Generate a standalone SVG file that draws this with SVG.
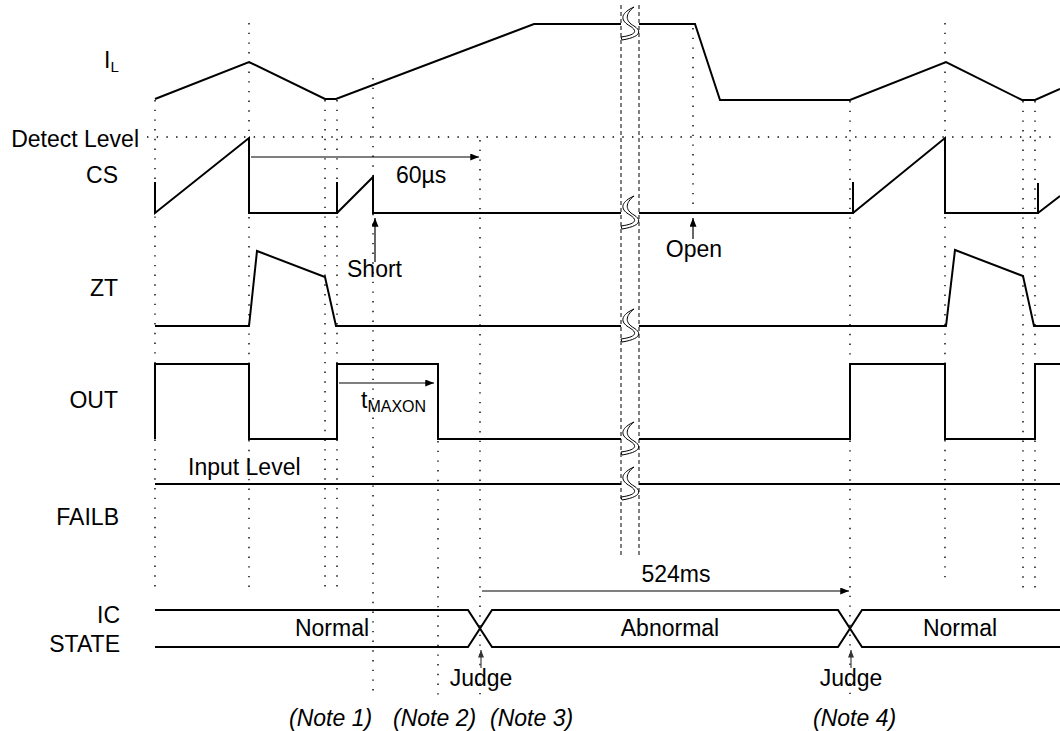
<svg xmlns="http://www.w3.org/2000/svg" width="1060" height="731" viewBox="0 0 1060 731">
<style>
.t{font-family:"Liberation Sans",Arial,Helvetica,sans-serif;font-size:23px;fill:#000}
.it{font-style:italic}
.w{fill:none;stroke:#000;stroke-width:2;stroke-linejoin:miter}
.dot{fill:none;stroke:#000;stroke-width:1.4;stroke-dasharray:1.4 8.3}
.dash{fill:none;stroke:#000;stroke-width:1;stroke-dasharray:4 3}
.ar{fill:none;stroke:#000;stroke-width:1.2}
.ja{fill:none;stroke:#444;stroke-width:1.2}
.brk{fill:#fff;stroke:#000;stroke-width:1}
</style>
<defs>
<marker id="ah" viewBox="0 0 10 8" refX="10" refY="4" markerWidth="9" markerHeight="7" markerUnits="userSpaceOnUse" orient="auto">
<path d="M0,0 L10,4 L0,8 Z" fill="#000"/>
</marker>
<marker id="ahs" viewBox="0 0 10 8" refX="10" refY="4" markerWidth="8" markerHeight="6" markerUnits="userSpaceOnUse" orient="auto">
<path d="M0,0 L10,4 L0,8 Z" fill="#333"/>
</marker>
<g id="breaksym">
<path class="brk" d="M9,-15 C-1,-9 0,-3 9,2 C17,7 15,11 0,13 L1,16 C20,13 21,7 13,2 C4,-3 4,-10 13,-17 Z"/>
</g>
</defs>
<rect width="1060" height="731" fill="#fff"/>

<g id="grid">
<path class="dot" d="M147,137 H1056"/>
<path class="dot" d="M155,100 V588"/>
<path class="dot" d="M249,23 V590"/>
<path class="dot" d="M325,100 V590"/>
<path class="dot" d="M337,100 V590"/>
<path class="dot" d="M373,78 V695"/>
<path class="dot" d="M438,441 V699"/>
<path class="dot" d="M480,140 V695"/>
<path class="dot" d="M693,28 V210"/>
<path class="dot" d="M850,101 V697"/>
<path class="dot" d="M945,23 V580"/>
<path class="dot" d="M1023,101 V589"/>
<path class="dot" d="M1035,101 V589"/>
<path class="dash" d="M621,5 V555"/>
<path class="dash" d="M639,5 V555"/>
</g>

<g id="labels">
<text class="t" x="104" y="68">I<tspan font-size="15" dy="4">L</tspan></text>
<text class="t" x="139" y="147" text-anchor="end">Detect Level</text>
<text class="t" x="118" y="183" text-anchor="end">CS</text>
<text class="t" x="118" y="296" text-anchor="end">ZT</text>
<text class="t" x="118" y="408" text-anchor="end">OUT</text>
<text class="t" x="119" y="525" text-anchor="end">FAILB</text>
<text class="t" x="120" y="623" text-anchor="end">IC</text>
<text class="t" x="120" y="652" text-anchor="end">STATE</text>
</g>

<g id="sig-IL">
<path class="w" d="M155,99 L249,62 L325,99 H336 L534,24 H621"/>
<path class="w" d="M639,24 H695 L720,100 H850 L946,62 L1022,100 H1035 L1060,89"/>
</g>
<g id="sig-CS">
<path class="w" d="M155,182 V213 L249,138 V213 H337 V182 M337,213 L373,177 V213 H621"/>
<path class="w" d="M639,213 H853 V182 M853,213 L945,138 V213 H1038 V183 M1038,213 L1060,196"/>
</g>
<g id="sig-ZT">
<path class="w" d="M155,326 H249 L257,251 L325,277 L336,326 H621"/>
<path class="w" d="M639,326 H946 L955,250 L1023,276 L1034,326 H1060"/>
</g>
<g id="sig-OUT">
<path class="w" d="M155,439 V364 H249 V439 H337 V364 H438 V439 H621"/>
<path class="w" d="M639,439 H850 V364 H945 V439 H1035 V364 H1060"/>
</g>
<g id="sig-FAILB">
<path class="w" d="M155,484 H621 M639,484 H1060"/>
</g>
<g id="sig-ICSTATE">
<path class="w" d="M155,610 H468 L492,647 H838 L862,610 H1060"/>
<path class="w" d="M155,647 H468 L492,610 H838 L862,647 H1060"/>
<text class="t" x="332" y="636" text-anchor="middle">Normal</text>
<text class="t" x="670" y="636" text-anchor="middle">Abnormal</text>
<text class="t" x="960" y="636" text-anchor="middle">Normal</text>
</g>

<g id="breaks">
<use href="#breaksym" x="621" y="24"/>
<use href="#breaksym" x="621" y="213"/>
<use href="#breaksym" x="621" y="326"/>
<use href="#breaksym" x="621" y="439"/>
<use href="#breaksym" x="621" y="484"/>
</g>

<g id="connectors">
<path class="ar" d="M251,157 H479" marker-end="url(#ah)"/>
<path class="ar" d="M339,383 H434" marker-end="url(#ah)"/>
<path class="ar" d="M482,591 H849" marker-end="url(#ah)"/>
<path class="ar" d="M375,262 V218" marker-end="url(#ah)"/>
<path class="ar" d="M693,239 V218" marker-end="url(#ah)"/>
<path class="ja" d="M481,668 V650" marker-end="url(#ahs)"/>
<path class="ja" d="M851,668 V650" marker-end="url(#ahs)"/>
</g>

<g id="annotations">
<text class="t" x="396" y="183">60µs</text>
<text class="t" x="347" y="277">Short</text>
<text class="t" x="694" y="257" text-anchor="middle">Open</text>
<text class="t" x="361" y="408">t<tspan font-size="16" dy="4">MAXON</tspan></text>
<text class="t" x="188" y="475">Input Level</text>
<text class="t" x="676" y="582" text-anchor="middle">524ms</text>
<text class="t" x="481" y="686" text-anchor="middle">Judge</text>
<text class="t" x="851" y="686" text-anchor="middle">Judge</text>
<text class="t it" x="289" y="726">(Note 1)</text>
<text class="t it" x="393" y="726">(Note 2)</text>
<text class="t it" x="490" y="726">(Note 3)</text>
<text class="t it" x="813" y="726">(Note 4)</text>
</g>
</svg>
